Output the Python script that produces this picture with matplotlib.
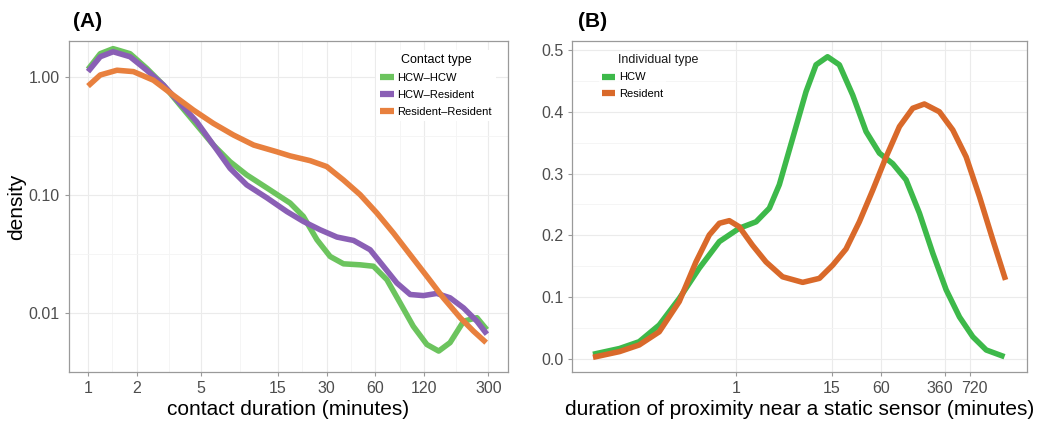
import numpy as np
import matplotlib
matplotlib.use('Agg')
import matplotlib.pyplot as plt
from matplotlib.transforms import ScaledTranslation

plt.rcParams['font.family'] = ['Liberation Sans', 'DejaVu Sans']

# ---- panel A: contact duration densities (log-log) ----
a_labels = ['HCW\u2013HCW', 'HCW\u2013Resident', 'Resident\u2013Resident']
a_colors = ['#6cc45e', '#8a5fb5', '#e8803e']

hh_x = [1.0, 1.19, 1.43, 1.82, 2.31, 2.93, 3.71, 4.71, 5.97, 7.57, 9.6, 12.8, 17.8, 21.5, 26.1,
        31.5, 38.1, 48.3, 58.4, 70.7, 85.5, 103, 125, 148, 174, 211, 255, 294]
hh_y = [1.15, 1.56, 1.72, 1.56, 1.17, 0.845, 0.573, 0.388, 0.263, 0.19, 0.147, 0.114, 0.085, 0.0655, 0.0416,
        0.030, 0.026, 0.0255, 0.0248, 0.0191, 0.0121, 0.0077, 0.0054, 0.00475, 0.0056, 0.0085, 0.0091, 0.0072]

hr_x = [1.0, 1.19, 1.43, 1.82, 2.31, 2.93, 3.71, 4.71, 5.97, 7.57, 9.6, 12.8, 17.0, 21.5, 27.3,
        34.7, 44, 55.7, 67.3, 81.5, 98.6, 119, 144, 174, 211, 255, 294]
hr_y = [1.10, 1.47, 1.62, 1.47, 1.13, 0.845, 0.592, 0.414, 0.263, 0.167, 0.121, 0.094, 0.072, 0.0594, 0.0505,
        0.0438, 0.041, 0.0342, 0.0248, 0.0179, 0.0143, 0.014, 0.0146, 0.0134, 0.011, 0.0085, 0.0066]

rr_x = [1.0, 1.19, 1.51, 1.91, 2.54, 3.37, 4.49, 5.97, 7.94, 10.6, 14.7, 17.8, 23.7, 30,
        38.1, 48.3, 61.3, 77.7, 98.6, 125, 158, 201, 243, 291]
rr_y = [0.83, 1.03, 1.13, 1.10, 0.93, 0.695, 0.52, 0.401, 0.32, 0.263, 0.231, 0.213, 0.194, 0.173,
        0.133, 0.10, 0.070, 0.0473, 0.031, 0.0204, 0.0134, 0.0091, 0.0070, 0.0056]

a_xticks = [1, 2, 5, 15, 30, 60, 120, 300]
a_yticks = [0.01, 0.1, 1.0]
a_yticklabels = ['0.01', '0.10', '1.00']

# ---- panel B: proximity duration densities (log x) ----
b_labels = ['HCW', 'Resident']
b_colors = ['#3db94a', '#d9692a']

hcw_x = [0.018, 0.038, 0.066, 0.116, 0.204, 0.358, 0.63, 1.10, 1.77, 2.57, 3.4, 4.95, 7.21, 9.55,
         13.2, 18.4, 26.8, 39, 56.8, 82.6, 120, 175, 255, 371, 540, 785, 1145, 1915]
hcw_y = [0.0076, 0.017, 0.028, 0.055, 0.098, 0.147, 0.19, 0.2115, 0.222, 0.244, 0.282, 0.357, 0.4325, 0.476,
         0.489, 0.476, 0.427, 0.368, 0.333, 0.316, 0.29, 0.236, 0.171, 0.112, 0.068, 0.036, 0.0146, 0.0037]

res_x = [0.018, 0.038, 0.066, 0.116, 0.204, 0.326, 0.474, 0.63, 0.833, 1.10, 1.60, 2.34, 3.73, 6.56,
         10.5, 15.3, 22.2, 32.3, 47, 68.6, 99.7, 145, 201, 307, 447, 651, 948, 1380, 1972]
res_y = [0.0027, 0.012, 0.0227, 0.044, 0.093, 0.157, 0.2006, 0.2196, 0.2238, 0.214, 0.184, 0.157, 0.133, 0.124,
         0.1305, 0.152, 0.178, 0.222, 0.273, 0.327, 0.376, 0.4057, 0.4126, 0.400, 0.3706, 0.327, 0.2626, 0.1926, 0.128]

b_xticks = [1, 15, 60, 360, 720]
b_yticks = [0.0, 0.1, 0.2, 0.3, 0.4, 0.5]

tick_col = '#4d4d4d'
grid_major = '#ebebeb'
grid_minor = '#f4f4f4'


def style_axes(ax):
    ax.set_facecolor('white')
    for s in ax.spines.values():
        s.set_color('#9a9a9a')
        s.set_linewidth(0.9)
    ax.tick_params(colors='#9a9a9a', labelcolor=tick_col, labelsize=11.5, length=3, width=0.8)
    ax.tick_params(which='minor', length=0)
    ax.set_axisbelow(True)


fig = plt.figure(figsize=(10.37, 4.22), dpi=100)

# panel A
ax1 = fig.add_axes([0.0665, 0.1185, 0.4235, 0.7845])
for xs, ys, c, lab in zip([hh_x, hr_x, rr_x], [hh_y, hr_y, rr_y], a_colors, a_labels):
    ax1.plot(xs, ys, color=c, lw=4, label=lab, solid_capstyle='butt', solid_joinstyle='round')
ax1.set_xscale('log')
ax1.set_yscale('log')
ax1.set_xlim(0.762, 398)
ax1.set_ylim(0.00364, 2.0)
ax1.set_xticks(a_xticks)
ax1.set_xticklabels([str(t) for t in a_xticks])
ax1.set_yticks(a_yticks)
ax1.set_yticklabels(a_yticklabels)
ax1.set_xticks(np.sqrt(np.array(a_xticks[:-1]) * np.array(a_xticks[1:])), minor=True)
ax1.set_yticks([0.00316, 0.0316, 0.316], minor=True)
ax1.xaxis.set_minor_formatter(plt.NullFormatter())
ax1.yaxis.set_minor_formatter(plt.NullFormatter())
ax1.grid(True, which='major', color=grid_major, lw=0.8)
ax1.grid(True, which='minor', color=grid_minor, lw=0.6)
style_axes(ax1)
ax1.set_xlabel('contact duration (minutes)', fontsize=15, labelpad=3)
ax1.set_ylabel('density', fontsize=15, labelpad=2)
ax1.text(0.01, 1.03, '(A)', transform=ax1.transAxes, fontsize=15, fontweight='bold', va='bottom')
leg1 = ax1.legend(title='Contact type', loc='upper right', bbox_to_anchor=(0.985, 0.99),
                  fontsize=8, title_fontsize=9, frameon=True, handlelength=1.2,
                  handletextpad=0.3, labelspacing=0.62, borderpad=0.4)
leg1.get_frame().set_edgecolor('none')
leg1.get_frame().set_alpha(1.0)
for h in leg1.get_lines():
    h.set_linewidth(4.5)

# panel B
ax2 = fig.add_axes([0.552, 0.1185, 0.4386, 0.7845])
for xs, ys, c, lab in zip([hcw_x, res_x], [hcw_y, res_y], b_colors, b_labels):
    ax2.plot(xs, ys, color=c, lw=4, label=lab, solid_capstyle='butt', solid_joinstyle='round')
ax2.set_xscale('log')
ax2.set_xlim(0.0101, 3631)
ax2.set_ylim(-0.021, 0.5146)
ax2.set_xticks(b_xticks)
ax2.set_xticklabels([str(t) for t in b_xticks])
ax2.xaxis.set_minor_locator(plt.NullLocator())
ax2.set_yticks(b_yticks)
ax2.set_yticklabels(['%.1f' % t for t in b_yticks])
ax2.set_yticks([0.05, 0.15, 0.25, 0.35, 0.45], minor=True)
ax2.grid(True, which='major', color=grid_major, lw=0.8)
ax2.grid(True, which='minor', axis='y', color=grid_minor, lw=0.6)
style_axes(ax2)
ax2.set_xlabel('duration of proximity near a static sensor (minutes)', fontsize=15, labelpad=3)
ax2.text(0.012, 1.03, '(B)', transform=ax2.transAxes, fontsize=15, fontweight='bold', va='bottom')
# nudge the crowded 360 / 720 labels apart
for lbl in ax2.get_xticklabels():
    if lbl.get_text() == '360':
        lbl.set_transform(lbl.get_transform() + ScaledTranslation(-0.05, 0, fig.dpi_scale_trans))
    if lbl.get_text() == '720':
        lbl.set_transform(lbl.get_transform() + ScaledTranslation(0.05, 0, fig.dpi_scale_trans))
leg2 = ax2.legend(loc='upper left', bbox_to_anchor=(0.058, 0.915), borderaxespad=0,
                  fontsize=8, frameon=True, handlelength=1.2,
                  handletextpad=0.3, labelspacing=0.62, borderpad=0.3)
leg2.get_frame().set_edgecolor('none')
for h in leg2.get_lines():
    h.set_linewidth(4.5)
ax2.text(0.0996, 0.943, 'Individual type', transform=ax2.transAxes, fontsize=9,
         ha='left', va='center', color='#1a1a1a')

fig.savefig('out.png', dpi=100)
